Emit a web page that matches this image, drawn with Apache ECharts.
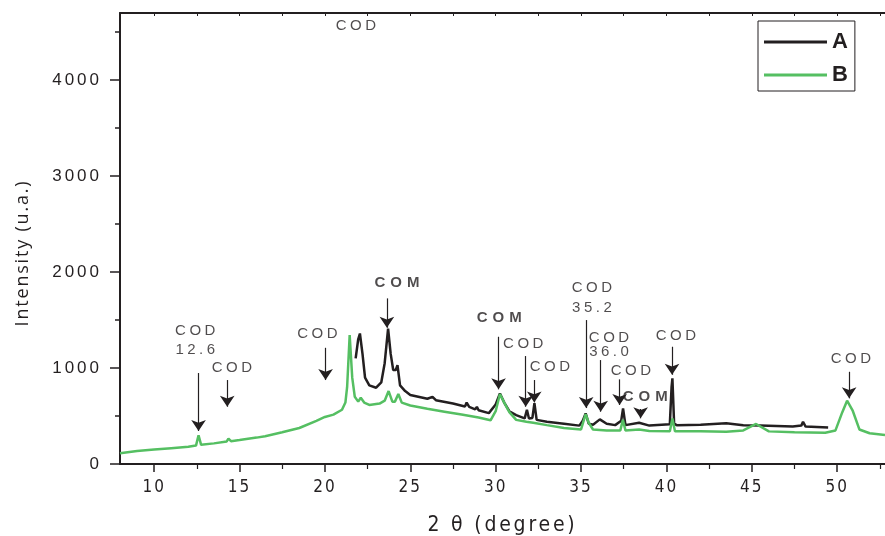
<!DOCTYPE html>
<html>
<head>
<meta charset="utf-8">
<script src="https://cdn.jsdelivr.net/npm/echarts@6/dist/echarts.min.js"></script>
<style>html,body{margin:0;padding:0;background:#fff}#c{width:885px;height:536px}</style>
</head>
<body>
<div id="c"></div>
<script>
// Series A (black)
const xA = [21.8,21.95,22.05,22.2,22.35,22.6,23.0,23.3,23.5,23.7,23.85,24.0,24.15,24.25,24.4,24.7,25.0,26.0,26.3,26.5,27.5,28.2,28.3,28.45,28.8,28.9,29.0,29.6,30.0,30.25,30.5,30.8,31.2,31.7,31.83,31.95,32.15,32.27,32.4,33.0,34.0,34.9,35.1,35.27,35.45,35.7,36.1,36.5,37.0,37.35,37.46,37.6,38.4,39.0,40.2,40.3,40.35,40.45,40.6,42.0,43.5,44.5,45.5,47.4,47.9,48.0,48.15,49.47];
const yA = [1100,1300,1360,1150,900,820,795,850,1050,1410,1150,980,980,1030,820,760,720,680,700,665,630,600,640,595,570,595,560,530,620,735,640,550,510,475,565,475,480,635,460,440,420,400,450,528,420,410,465,420,405,450,580,405,430,400,415,800,893,420,405,410,425,405,400,390,400,440,390,380];
// Series B (green)
const xB = [8.0,9.0,10.0,11.0,12.0,12.45,12.6,12.75,13.5,14.25,14.35,14.5,15.0,16.0,16.5,17.5,18.5,19.5,20.0,20.5,21.0,21.2,21.3,21.45,21.6,21.75,21.95,22.1,22.3,22.6,23.2,23.5,23.73,23.95,24.1,24.3,24.5,25.0,26.0,27.0,28.0,29.0,29.7,30.0,30.25,30.5,30.8,31.2,31.8,32.2,33.0,34.0,35.0,35.15,35.27,35.45,35.7,36.5,37.3,37.45,37.6,38.4,39.0,40.2,40.35,40.5,42.0,43.5,44.5,45.25,46.0,47.5,49.3,49.9,50.3,50.58,50.9,51.3,51.9,52.8];
const yB = [111,135,150,165,180,192,300,200,215,235,265,238,250,275,290,330,375,450,490,515,565,640,800,1344,900,700,650,690,640,615,630,660,760,650,650,730,640,610,575,545,515,485,455,550,730,640,540,460,440,430,405,375,360,450,520,430,360,350,350,460,350,360,345,340,475,340,340,337,350,417,340,330,326,350,540,660,560,360,320,302];
// Annotations (text, text centre, arrow)
const annText = ['COD\n12.6','COD','COD','COM','COM','COD','COD','COD\n35.2','COD\n36.0','COD','COM','COD','COD','COD'];
const annX = [12.51,14.65,19.66,24.37,30.35,31.72,33.28,35.74,36.74,38.02,38.9,40.66,50.9,21.92];
const annY = [1297,1010,1365,1896,1531,1260,1021,1740,1250,979,708,1344,1104,4573];
const arrowX = [12.6,14.28,20.04,23.63,30.17,31.76,32.26,35.3,36.15,37.26,38.49,40.33,50.7];
const arrowTop = [948,875,1211,1726,1326,1125,875,1500,1083,882,573,1222,961];
const arrowTip = [344,597,875,1420,778,597,642,583,545,615,476,930,684];
// Axis ticks
const xTicks = [10,15,20,25,30,35,40,45,50];
const xMinorTicks = [12.5,17.5,22.5,27.5,32.5,37.5,42.5,47.5,52.5];
const yTicks = [0,1000,2000,3000,4000];

// letter spacing (tracking) of the printed texts, in px
const tracking = {
  'COD': 3.5, 'COM': 5, '12.6': 3.5, '35.2': 3.5, '36.0': 3.5,
  '0': 3, '1000': 3, '2000': 3, '3000': 3, '4000': 3,
  '10': 2, '15': 2, '20': 2, '25': 2, '30': 2, '35': 2, '40': 2, '45': 2, '50': 2,
  'Intensity (u.a.)': 1.8, '2 θ (degree)': 2.8
};
(function () {
  const P = CanvasRenderingContext2D.prototype;
  const orig = P.fillText;
  P.fillText = function (t, x, y, w) {
    if ('letterSpacing' in this) {
      const ls = tracking[String(t)];
      this.letterSpacing = (ls ? ls : 0) + 'px';
    }
    const r = w === undefined ? orig.call(this, t, x, y) : orig.call(this, t, x, y, w);
    if ('letterSpacing' in this) this.letterSpacing = '0px';
    return r;
  };
})();

const ink = '#231f20', green = '#55bf62';
const zip = (xs, ys) => xs.map((x, i) => [x, ys[i]]);

const annData = annText.map((t, i) => ({
  value: [annX[i], annY[i]],
  label: {
    formatter: t,
    color: ink,
    fontWeight: t === 'COM' ? 'bold' : 'normal',
    fontFamily: 'Liberation Sans, Arial, sans-serif',
    fontSize: 15,
    lineHeight: t === 'COD\n36.0' ? 14 : (t === 'COD\n35.2' ? 20 : 19)
  }
}));
const arrowData = arrowX.map((x, i) => [{ coord: [x, arrowTop[i]] }, { coord: [x, arrowTip[i]] }]);

const narrow = 'Liberation Sans Narrow, DejaVu Sans Condensed, sans-serif';
const xBase = { type: 'value', min: 8, max: 52.8, splitLine: { show: false } };

const chart = echarts.init(document.getElementById('c'), null, { renderer: 'canvas' });
chart.setOption({
  animation: false,
  backgroundColor: '#fff',
  grid: { left: 120, right: 0, top: 13, bottom: 72, containLabel: false, outerBoundsMode: 'none' },
  legend: {
    data: ['A', 'B'],
    orient: 'vertical',
    left: 758, top: 21,
    padding: [10, 7, 5, 6],
    itemGap: 11,
    itemWidth: 63, itemHeight: 3,
    itemTextGap: 9,
    icon: 'rect',
    backgroundColor: '#fff',
    borderColor: ink, borderWidth: 1,
    textStyle: { fontFamily: 'Liberation Sans, Arial, sans-serif', fontWeight: 'bold', fontSize: 22, color: ink, lineHeight: 20 }
  },
  xAxis: [Object.assign({}, xBase, {
    position: 'bottom',
    name: '2 θ (degree)', nameLocation: 'middle', nameGap: 51,
    nameTextStyle: { fontFamily: narrow, fontSize: 21, color: ink },
    axisLine: { show: true, onZero: false, lineStyle: { color: ink, width: 2 } },
    axisTick: { show: true, inside: false, length: 8, lineStyle: { color: ink, width: 1.5 }, customValues: xTicks },
    axisLabel: { show: true, margin: 15, fontFamily: narrow, fontSize: 17, color: ink, customValues: xTicks }
  }), Object.assign({}, xBase, {
    position: 'bottom',
    axisLine: { show: false, onZero: false },
    axisTick: { show: true, inside: false, length: 5, lineStyle: { color: ink, width: 1.2 }, customValues: xMinorTicks },
    axisLabel: { show: false }
  }), Object.assign({}, xBase, {
    position: 'top',
    axisLine: { show: true, onZero: false, lineStyle: { color: ink, width: 2 } },
    axisTick: { show: true, inside: true, length: 3, lineStyle: { color: ink, width: 1 }, customValues: xTicks.concat(xMinorTicks) },
    axisLabel: { show: false }
  })],
  yAxis: {
    type: 'value', min: 0, max: 4700, interval: 1000,
    name: 'Intensity (u.a.)', nameLocation: 'middle', nameGap: 88,
    nameTextStyle: { fontFamily: 'Open Sans, sans-serif', fontSize: 18, color: ink, padding: [0, 0, 0, -29] },
    axisLine: { show: true, onZero: false, lineStyle: { color: ink, width: 2 } },
    axisTick: { show: true, inside: false, length: 10, lineStyle: { color: ink, width: 1.5 }, customValues: yTicks },
    minorTick: { show: true, splitNumber: 2, length: 5, lineStyle: { color: ink, width: 1.5 } },
    axisLabel: { margin: 18, fontFamily: 'Liberation Sans, Arial, sans-serif', fontSize: 17, color: ink, customValues: yTicks, formatter: v => String(v) },
    splitLine: { show: false }
  },
  series: [
    {
      name: 'A', type: 'line', data: zip(xA, yA), showSymbol: false, symbol: 'none',
      lineStyle: { color: ink, width: 2.5 }, itemStyle: { color: ink }, z: 3
    },
    {
      name: 'B', type: 'line', data: zip(xB, yB), showSymbol: false, symbol: 'none',
      lineStyle: { color: green, width: 2.5 }, itemStyle: { color: green }, z: 4
    },
    {
      name: 'ann', type: 'scatter', data: annData, symbolSize: 1,
      itemStyle: { color: 'rgba(0,0,0,0)' }, silent: true, z: 6,
      label: { show: true, position: 'inside', offset: [0, 1], color: ink },
      markLine: {
        silent: true, animation: false,
        symbol: ['none', 'arrow'], symbolSize: 11,
        lineStyle: { color: ink, width: 1.2, type: 'solid' },
        label: { show: false },
        data: arrowData
      }
    }
  ]
});
</script>
</body>
</html>
